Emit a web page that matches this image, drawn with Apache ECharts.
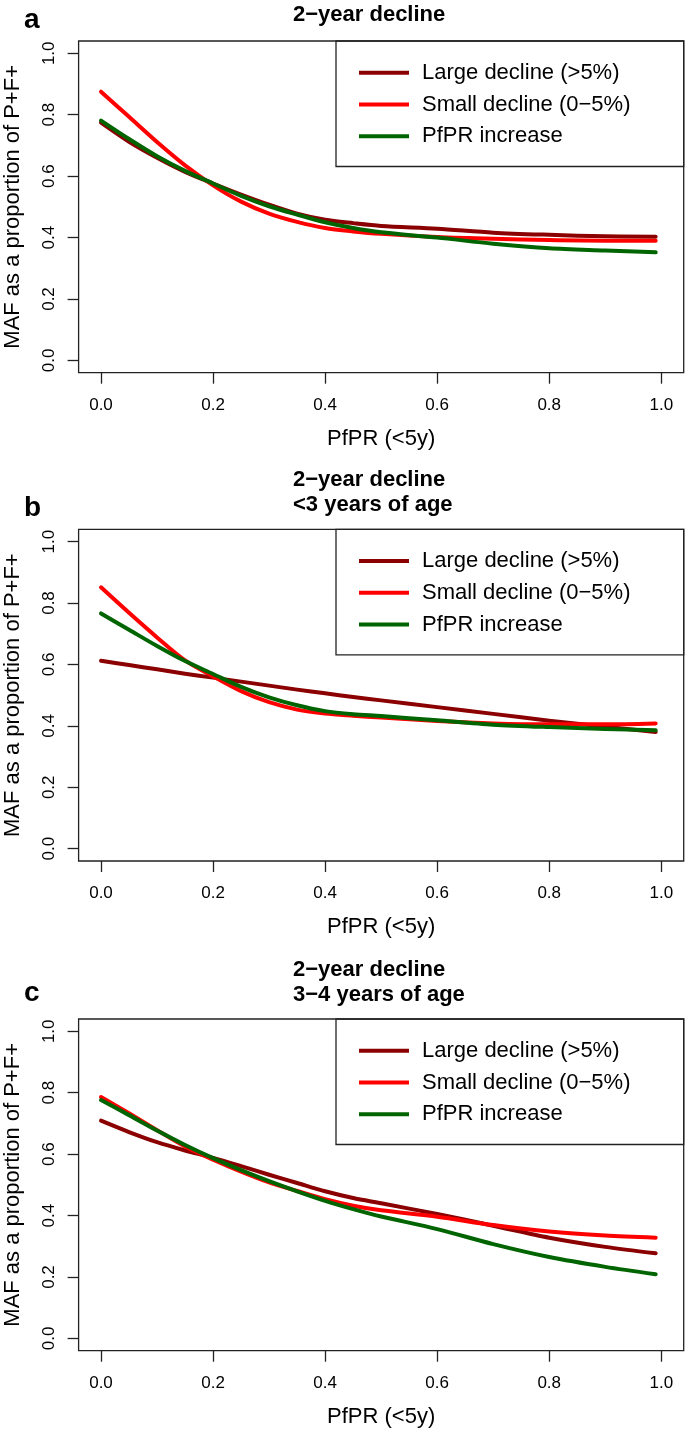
<!DOCTYPE html>
<html>
<head>
<meta charset="utf-8">
<script src="https://cdn.jsdelivr.net/npm/echarts@6/dist/echarts.min.js"></script>
<style>
html,body{margin:0;padding:0;background:#fff;}
#chart{width:685px;height:1429px;}
</style>
</head>
<body>
<div id="chart"></div>
<script>
// ---- data ----
const xValues = [0, 0.05, 0.1, 0.15, 0.2, 0.25, 0.3, 0.35, 0.4, 0.45, 0.5, 0.6, 0.7, 0.8, 0.9, 0.99];
const seriesNames = ['Large decline (>5%)', 'Small decline (0\u22125%)', 'PfPR increase'];
const tickValues = [0, 0.2, 0.4, 0.6, 0.8, 1.0];
const panelLetters = ['a', 'b', 'c'];
const panelTitles = ['2\u2212year decline', '2\u2212year decline\n<3 years of age', '2\u2212year decline\n3\u22124 years of age'];
const xAxisTitle = 'PfPR (<5y)';
const yAxisTitle = 'MAF as a proportion of P+F+';

// panel a: 2-year decline
const aLarge    = [0.774, 0.712, 0.660, 0.614, 0.576, 0.540, 0.507, 0.478, 0.458, 0.447, 0.438, 0.429, 0.416, 0.409, 0.404, 0.403];
const aSmall    = [0.875, 0.793, 0.711, 0.635, 0.570, 0.517, 0.478, 0.451, 0.431, 0.420, 0.412, 0.402, 0.396, 0.392, 0.390, 0.390];
const aIncrease = [0.781, 0.721, 0.665, 0.617, 0.576, 0.536, 0.502, 0.475, 0.450, 0.431, 0.417, 0.400, 0.380, 0.365, 0.358, 0.352];

// panel b: <3 years of age
const bLarge    = [0.612, 0.598, 0.584, 0.570, 0.557, 0.544, 0.531, 0.518, 0.506, 0.494, 0.483, 0.461, 0.439, 0.417, 0.397, 0.380];
const bSmall    = [0.851, 0.768, 0.688, 0.613, 0.561, 0.513, 0.477, 0.453, 0.440, 0.433, 0.427, 0.416, 0.408, 0.405, 0.405, 0.408];
const bIncrease = [0.766, 0.713, 0.660, 0.611, 0.569, 0.527, 0.493, 0.467, 0.448, 0.438, 0.432, 0.418, 0.404, 0.396, 0.390, 0.386];

// panel c: 3-4 years of age
const cLarge    = [0.709, 0.672, 0.639, 0.612, 0.588, 0.561, 0.533, 0.506, 0.479, 0.457, 0.440, 0.405, 0.367, 0.328, 0.298, 0.277];
const cSmall    = [0.786, 0.733, 0.678, 0.625, 0.582, 0.543, 0.508, 0.480, 0.453, 0.432, 0.417, 0.396, 0.369, 0.348, 0.335, 0.328];
const cIncrease = [0.776, 0.727, 0.677, 0.630, 0.587, 0.548, 0.512, 0.479, 0.448, 0.421, 0.397, 0.356, 0.307, 0.265, 0.233, 0.209];

const panelData = [
  [aLarge, aSmall, aIncrease],
  [bLarge, bSmall, bIncrease],
  [cLarge, cSmall, cIncrease]
];

// ---- style / layout ----
const colors = ['#8B0000', '#FF0000', '#006400'];
const FONT = "'Liberation Sans', Arial, Helvetica, sans-serif";
const GRID_LEFT = 78.6, GRID_RIGHT_X = 683.7, GRID_H = 331.7;
const GRID_W = GRID_RIGHT_X - GRID_LEFT;
const gridTops = [41, 529.3, 1019];
const titleTops = [2.3, 467.5, 957.5];
const letterTops = [6.3, 494.7, 979.7];
const LEG_LEFT = 336, LEG_H = 125.5;
const AXIS_COLOR = '#222';

const chart = echarts.init(document.getElementById('chart'), null, {renderer: 'canvas'});

const grids = [], xAxes = [], yAxes = [], series = [], titles = [], legends = [], graphics = [];

panelData.forEach((arrs, p) => {
  const top = gridTops[p];
  grids.push({
    left: GRID_LEFT, top: top, width: GRID_W, height: GRID_H,
    show: true, borderColor: AXIS_COLOR, borderWidth: 1.3, backgroundColor: 'transparent',
    containLabel: false, outerBoundsMode: 'none'
  });
  xAxes.push({
    type: 'value', gridIndex: p, min: -0.04, max: 1.04,
    position: 'bottom',
    axisLine: {show: false, onZero: false},
    axisTick: {show: true, inside: false, length: 11, customValues: tickValues,
      lineStyle: {color: AXIS_COLOR, width: 1.3}},
    axisLabel: {show: true, customValues: tickValues, margin: 24,
      formatter: v => v.toFixed(1), color: '#000', fontSize: 17, fontFamily: FONT},
    splitLine: {show: false},
    name: xAxisTitle, nameLocation: 'middle', nameGap: 55,
    nameTextStyle: {color: '#000', fontSize: 22, fontFamily: FONT}
  });
  yAxes.push({
    type: 'value', gridIndex: p, min: -0.04, max: 1.04,
    position: 'left',
    axisLine: {show: false, onZero: false},
    axisTick: {show: true, inside: false, length: 11, customValues: tickValues,
      lineStyle: {color: AXIS_COLOR, width: 1.3}},
    axisLabel: {show: true, customValues: tickValues, margin: 21, rotate: 90,
      formatter: v => v.toFixed(1), color: '#000', fontSize: 17, fontFamily: FONT},
    splitLine: {show: false},
    name: yAxisTitle, nameLocation: 'middle', nameGap: 55, nameRotate: 90,
    nameTextStyle: {color: '#000', fontSize: 22, fontFamily: FONT}
  });
  arrs.forEach((vals, s) => {
    series.push({
      type: 'line', name: seriesNames[s], xAxisIndex: p, yAxisIndex: p,
      data: xValues.map((x, i) => [x, vals[i]]),
      smooth: 0.3, showSymbol: false, symbol: 'none',
      lineStyle: {color: colors[s], width: 4, cap: 'round', join: 'round'},
      itemStyle: {color: colors[s]},
      z: 3 + s, silent: true, animation: false
    });
  });
  titles.push({
    text: panelTitles[p], left: 293, top: titleTops[p], padding: 0,
    textAlign: 'left',
    textStyle: {fontFamily: FONT, fontSize: 22, fontWeight: 'bold', color: '#000', lineHeight: 25}
  });
  titles.push({
    text: panelLetters[p], left: 24, top: letterTops[p], padding: 0,
    textStyle: {fontFamily: FONT, fontSize: 28, fontWeight: 'bold', color: '#000', lineHeight: 28}
  });
  legends.push({
    show: true, orient: 'vertical', left: 359, top: top + 20.8, padding: 0,
    itemWidth: 50, itemHeight: 4, itemGap: 9.7, icon: 'rect',
    selectedMode: false,
    data: seriesNames.map((n, s) => ({name: n, itemStyle: {color: colors[s]}})),
    textStyle: {fontFamily: FONT, fontSize: 22, color: '#000', lineHeight: 22, padding: [0, 0, 0, 8]}
  });
  graphics.push({
    type: 'rect', silent: true, z: 10,
    shape: {x: LEG_LEFT, y: top, width: GRID_RIGHT_X - LEG_LEFT, height: LEG_H},
    style: {fill: null, stroke: AXIS_COLOR, lineWidth: 1.3}
  });
});

chart.setOption({
  animation: false,
  backgroundColor: '#fff',
  title: titles,
  legend: legends,
  grid: grids,
  xAxis: xAxes,
  yAxis: yAxes,
  series: series,
  graphic: graphics
});
</script>
</body>
</html>
